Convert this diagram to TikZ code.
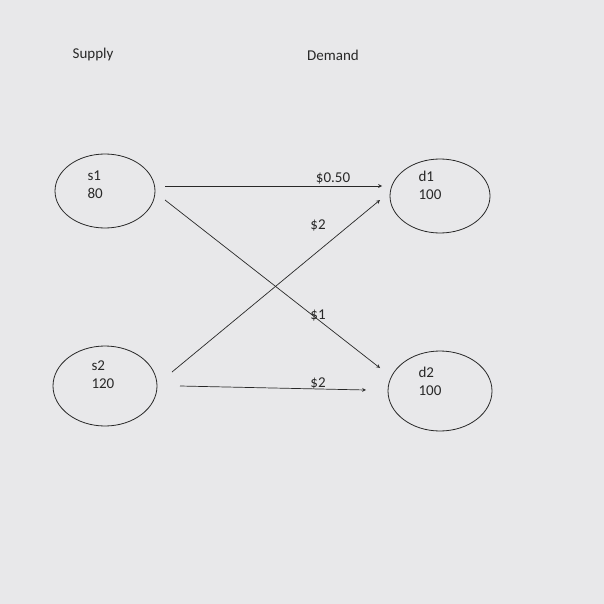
\documentclass[tikz,border=0pt]{standalone}
\usepackage{fontspec}
\setmainfont{Carlito}
\usetikzlibrary{shapes.geometric}
\definecolor{paper}{RGB}{232,232,234}
\definecolor{ink}{RGB}{40,40,40}
\begin{document}
\begin{tikzpicture}[x=1pt,y=-1pt,
  circ/.style={ellipse,draw=ink,line width=0.8pt},
  lbl/.style={text=ink,font=\fontsize{15}{18}\selectfont},
  vals/.style={text=ink,align=left,font=\fontsize{15}{18}\selectfont,anchor=west},
  arr/.style={draw=ink,line width=0.7pt,-stealth}]
\fill[paper] (0,0) rectangle (604,604);
\useasboundingbox (0,0) rectangle (604,604);
\node[lbl] (sup) at (93,55) {Supply};
\node[lbl] (dem) at (333,55) {Demand};
\node[circ,minimum width=100,minimum height=74] (s1) at (105,191) {};
\node[circ,minimum width=104,minimum height=80] (s2) at (105,386) {};
\node[circ,minimum width=100,minimum height=74] (d1) at (440,196) {};
\node[circ,minimum width=104,minimum height=80] (d2) at (440,391) {};
\node[vals] (s1t) at (84,185) {s1\\80};
\node[vals] (s2t) at (88,375) {s2\\120};
\node[vals] (d1t) at (415,185) {d1\\100};
\node[vals] (d2t) at (415,381) {d2\\100};
\coordinate (a1) at (165,186); \coordinate (b1) at (382,186);
\coordinate (a2) at (165,200); \coordinate (b2) at (380,368);
\coordinate (a3) at (172,372); \coordinate (b3) at (380,200);
\coordinate (a4) at (180,386); \coordinate (b4) at (366,390);
\draw[arr] (a1) -- (b1);
\draw[arr] (a2) -- (b2);
\draw[arr] (a3) -- (b3);
\draw[arr] (a4) -- (b4);
\node[lbl] (c1) at (333,178) {\$0.50};
\node[lbl] (c2) at (318,225) {\$2};
\node[lbl] (c3) at (318,316) {\$1};
\node[lbl] (c4) at (318,383) {\$2};
\end{tikzpicture}
\end{document}
